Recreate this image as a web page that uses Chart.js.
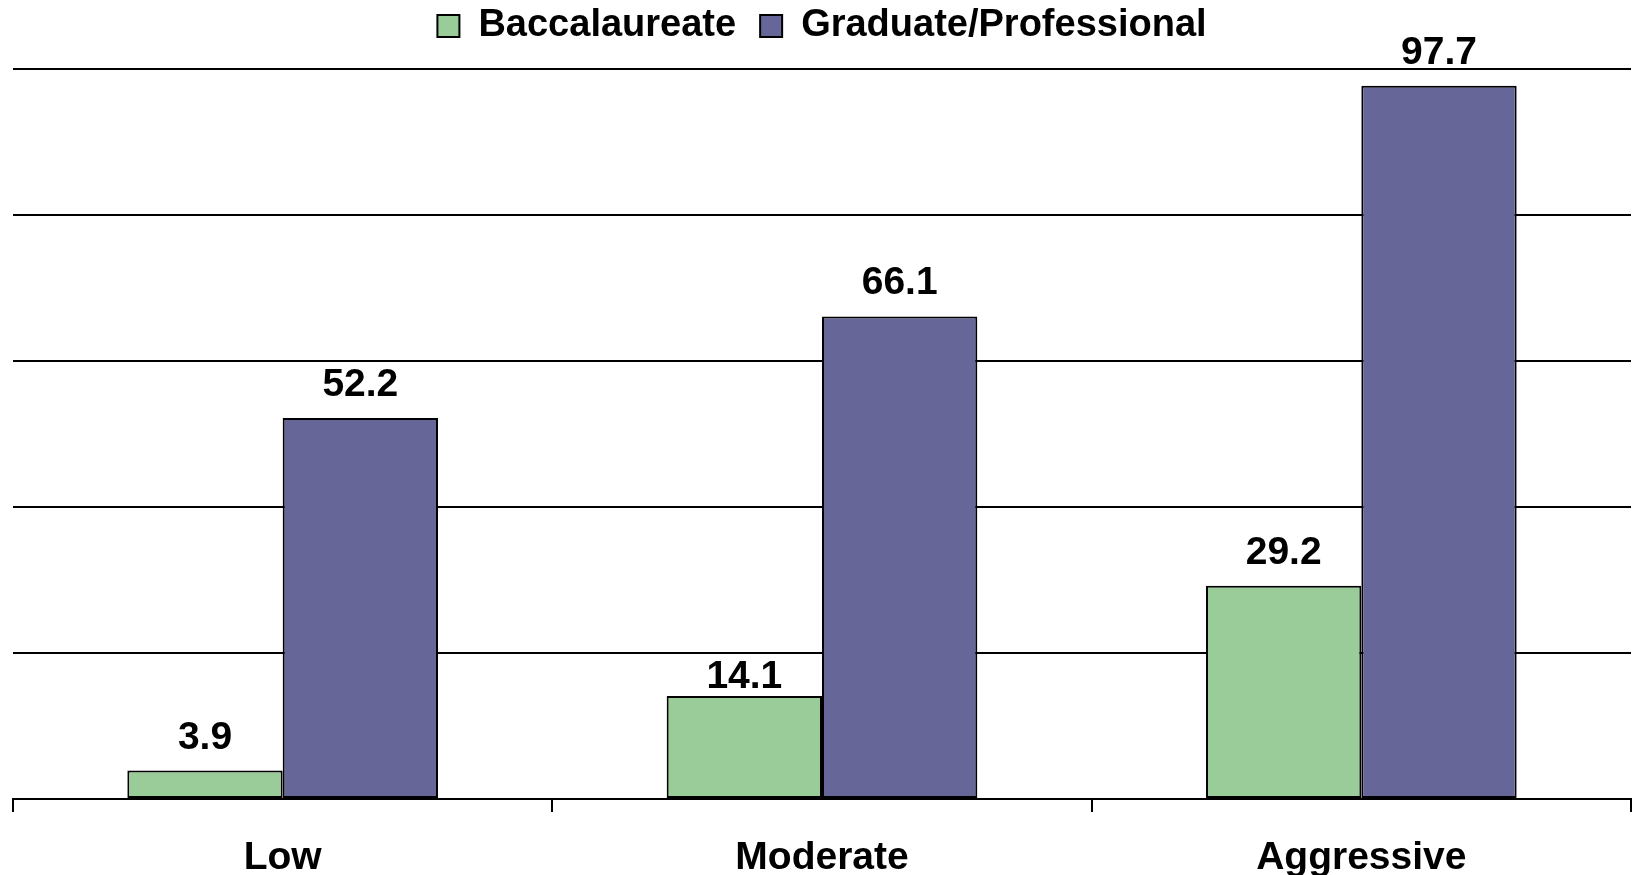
<!DOCTYPE html>
<html>
<head>
<meta charset="utf-8">
<script src="https://cdn.jsdelivr.net/npm/chart.js@4.4.1/dist/chart.umd.min.js"></script>
<style>
  html, body { margin: 0; padding: 0; background: #ffffff; }
  #wrap { width: 1635px; height: 875px; }
</style>
</head>
<body>
<div id="wrap"><canvas id="chart" width="1635" height="875"></canvas></div>
<script>
// Scenario categories and the two degree series
const categories = ['Low', 'Moderate', 'Aggressive'];
const baccalaureate = [3.9, 14.1, 29.2];
const graduateProfessional = [52.2, 66.1, 97.7];
const seriesNames = ['Baccalaureate', 'Graduate/Professional'];
// Value axis range and gridline spacing
const yMin = 0;
const yMax = 100;
const yStep = 20;

const FONT = "'Liberation Sans', Arial, Helvetica, sans-serif";
const GREEN = '#99cc99';
const PURPLE = '#666699';
const TEXT_SIZE = 39;
const LEGEND_SIZE = 38;
const LEGEND_BAND = 86;   // height reserved for the legend strip
const LABEL_GAP = 22;     // distance from bar top to value baseline

// Gives the legend strip a fixed height so the plot starts below it
const legendBand = {
  id: 'legendBand',
  beforeUpdate(chart) {
    const lg = chart.legend;
    if (lg && !lg.__banded) {
      const fit = lg.fit;
      lg.fit = function () { fit.call(this); this.height = LEGEND_BAND; };
      lg.__banded = true;
    }
  }
};

// Writes each bar's value above it; a label that would sit on a gridline drops just below that line
const valueLabels = {
  id: 'valueLabels',
  afterDatasetsDraw(chart) {
    const ctx = chart.ctx;
    const yScale = chart.scales.y;
    const capH = TEXT_SIZE * 0.716;
    const gridPixels = [];
    for (let v = yMin; v <= yMax; v += yStep) gridPixels.push(yScale.getPixelForValue(v));
    ctx.save();
    ctx.font = 'bold ' + TEXT_SIZE + 'px ' + FONT;
    ctx.fillStyle = '#000000';
    ctx.textAlign = 'center';
    ctx.textBaseline = 'alphabetic';
    chart.data.datasets.forEach((ds, di) => {
      const meta = chart.getDatasetMeta(di);
      meta.data.forEach((bar, i) => {
        let base = bar.y - LABEL_GAP;
        const top = base - capH;
        gridPixels.forEach(g => {
          if (g > top - 5 && g < base + 2) base = Math.min(g + 7 + capH, bar.y - 8);
        });
        ctx.fillText(ds.data[i].toFixed(1), bar.x, base);
      });
    });
    ctx.restore();
  }
};

new Chart(document.getElementById('chart'), {
  type: 'bar',
  data: {
    labels: categories,
    datasets: [
      {
        label: seriesNames[0],
        data: baccalaureate,
        backgroundColor: GREEN,
        borderColor: '#000000',
        borderWidth: 2,
        borderSkipped: false
      },
      {
        label: seriesNames[1],
        data: graduateProfessional,
        backgroundColor: PURPLE,
        borderColor: '#000000',
        borderWidth: 2,
        borderSkipped: false
      }
    ]
  },
  options: {
    responsive: false,
    animation: false,
    devicePixelRatio: 1,
    layout: { padding: { top: -17, left: 13, right: 4, bottom: 0 } },
    datasets: {
      bar: { categoryPercentage: 0.576, barPercentage: 1.0 }
    },
    plugins: {
      tooltip: { enabled: false },
      legend: {
        position: 'top',
        labels: {
          boxWidth: 22,
          boxHeight: 22,
          padding: 24,
          color: '#000000',
          font: { family: FONT, size: LEGEND_SIZE, weight: 'bold' }
        }
      }
    },
    scales: {
      x: {
        grid: {
          offset: true,
          drawOnChartArea: false,
          drawTicks: true,
          tickLength: 13,
          color: '#000000',
          lineWidth: 2
        },
        border: { display: true, color: '#000000', width: 2 },
        ticks: {
          color: '#000000',
          padding: 23,
          font: { family: FONT, size: TEXT_SIZE, weight: 'bold' }
        },
        afterFit(scale) { scale.height = 76; }
      },
      y: {
        min: yMin,
        max: yMax,
        ticks: { stepSize: yStep, display: false },
        grid: { drawTicks: false, color: '#000000', lineWidth: 2 },
        border: { display: false },
        afterFit(scale) { scale.width = 0; }
      }
    }
  },
  plugins: [legendBand, valueLabels]
});
</script>
</body>
</html>
